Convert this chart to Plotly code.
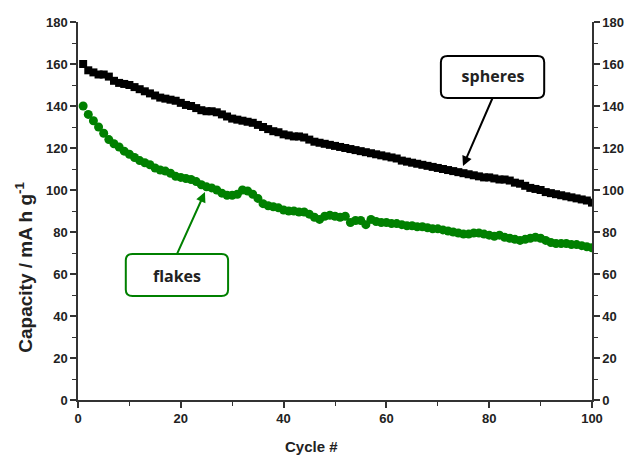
import plotly.graph_objects as go

cycles = list(range(1, 101))

spheres = [160, 157, 156, 155, 155, 154, 152, 151, 150.5, 150,
           149, 148, 147, 146, 145, 144, 143.5, 143, 142.5, 141.5,
           140.5, 140, 139, 138, 137.5, 137.5, 137, 136, 135, 134,
           133.5, 133, 132.5, 132, 131, 130, 129, 128, 127.5, 126.5,
           126, 125.5, 125.5, 125, 124, 123, 122.5, 122, 121.5, 121,
           120.5, 120, 119.5, 119, 118.5, 118, 117.5, 117, 116.5, 116,
           115.5, 115, 114, 113.5, 113, 112.5, 112, 111.5, 111, 110.5,
           110, 109.5, 109, 108.5, 108, 107.5, 107, 106.5, 106, 106,
           105.5, 105, 105, 104.5, 103.5, 103, 102, 101, 100.5, 100,
           99, 98.5, 98, 97.5, 97, 96.5, 96, 95.5, 95, 94]

flakes = [140, 136, 133, 130, 127, 124, 122, 120.5, 118.5, 117,
          115.5, 114, 113, 112, 110.5, 109.5, 109, 108, 106.5, 106,
          105.5, 105, 104, 102.5, 101.5, 101, 100, 98.5, 97.5, 97.5,
          98, 100, 99.5, 98, 96, 93.5, 92.5, 92, 91.5, 90.5,
          90, 90, 89.5, 89.5, 88.5, 87, 86, 87.5, 88, 87.5,
          87, 87.5, 84.5, 85.5, 85.5, 83.5, 86, 85, 84.5, 84.5,
          84, 84, 83.5, 83, 83, 82.5, 82.5, 82, 81.5, 81.5,
          81, 80.5, 80, 79.5, 79, 79, 79.5, 79.5, 79, 78.5,
          78, 78.5, 77.5, 77, 76.5, 76, 76.5, 77, 77.5, 77,
          76, 75, 74.5, 74.5, 74.5, 74, 74, 73.5, 73, 72.5]

y_ticks = list(range(0, 181, 20))
x_ticks = list(range(0, 101, 20))

BLACK = "#000000"
GREEN = "#008000"
AXIS = "#333333"

fig = go.Figure()
fig.add_trace(go.Scatter(x=cycles, y=spheres, mode="markers", name="spheres",
                         marker=dict(symbol="square", size=8, color=BLACK),
                         showlegend=False))
fig.add_trace(go.Scatter(x=cycles, y=flakes, mode="markers", name="flakes",
                         marker=dict(symbol="circle", size=9, color=GREEN),
                         showlegend=False))

tickfont = dict(family="Liberation Sans, Arial, sans-serif", size=13,
                color="#222222", weight="bold")
titlefont = dict(family="Liberation Sans, Arial, sans-serif", size=15,
                 color="#222222", weight="bold")

axis_common = dict(showline=True, linecolor=AXIS, linewidth=1.5,
                   ticks="outside", ticklen=6, tickwidth=1.5, tickcolor=AXIS,
                   showgrid=False, zeroline=False, tickfont=tickfont,
                   automargin=False,
                   minor=dict(ticks="outside", ticklen=4, tickwidth=1.2,
                              tickcolor=AXIS, showgrid=False, dtick=10))

# the page body adds an 8px offset, so the figure is 8px smaller than the window
fig.update_layout(
    width=624, height=449,
    margin=dict(l=70, r=40, t=14, b=57),
    plot_bgcolor="white", paper_bgcolor="white",
    xaxis=dict(range=[0, 100], tickvals=x_ticks, **axis_common),
    yaxis=dict(range=[0, 180], tickvals=y_ticks, **axis_common),
    yaxis2=dict(range=[0, 180], tickvals=y_ticks, overlaying="y", side="right",
                anchor="x", **axis_common),
)

# dummy trace so the right axis renders
fig.add_trace(go.Scatter(x=[cycles[0]], y=[spheres[0]], yaxis="y2", mode="markers",
                         marker=dict(opacity=0), showlegend=False, hoverinfo="skip"))

# axis titles
fig.add_annotation(text="Cycle #", xref="paper", yref="paper", x=0.455, y=-0.124,
                   xanchor="center", yanchor="middle",
                   showarrow=False, font=titlefont)
fig.add_annotation(text="Capacity / mA h g<sup>-1</sup>", xref="paper", yref="paper",
                   x=-0.105, y=0.35, xanchor="center", yanchor="middle",
                   textangle=-90, showarrow=False,
                   font=dict(family="Liberation Sans, Arial, sans-serif", size=19,
                             color="#222222", weight="bold"))


def rounded_box(x0, x1, y0, y1, rx, ry):
    return (f"M {x0+rx},{y0} L {x1-rx},{y0} Q {x1},{y0} {x1},{y0+ry} "
            f"L {x1},{y1-ry} Q {x1},{y1} {x1-rx},{y1} L {x0+rx},{y1} "
            f"Q {x0},{y1} {x0},{y1-ry} L {x0},{y0+ry} Q {x0},{y0} {x0+rx},{y0} Z")


fig.add_shape(type="path", xref="x", yref="y",
              path=rounded_box(70.6, 90.7, 143.8, 163.8, 1.3, 3.0),
              line=dict(color=BLACK, width=2), fillcolor="white")
fig.add_shape(type="path", xref="x", yref="y",
              path=rounded_box(9.3, 29.2, 49.5, 69.5, 1.3, 3.0),
              line=dict(color=GREEN, width=2), fillcolor="white")

boxfont = dict(family="Open Sans, sans-serif", size=16, color="#222222", weight="bold")

# label boxes with arrows (arrow tail on the box edge)
fig.add_annotation(x=74.9, y=111.4, ax=80.65, ay=143.8, xref="x", yref="y",
                   axref="x", ayref="y", text="spheres", yanchor="bottom",
                   xanchor="center", width=100, height=40,
                   showarrow=True, arrowhead=2, arrowsize=1, arrowwidth=2,
                   arrowcolor=BLACK, font=boxfont, standoff=0, startstandoff=0)
fig.add_annotation(x=24.7, y=99.0, ax=19.25, ay=69.5, xref="x", yref="y",
                   axref="x", ayref="y", text="flakes", yanchor="top",
                   xanchor="center", width=100, height=40,
                   showarrow=True, arrowhead=2, arrowsize=1, arrowwidth=2,
                   arrowcolor=GREEN, font=boxfont, standoff=0, startstandoff=0)

fig.write_html("out.html")
